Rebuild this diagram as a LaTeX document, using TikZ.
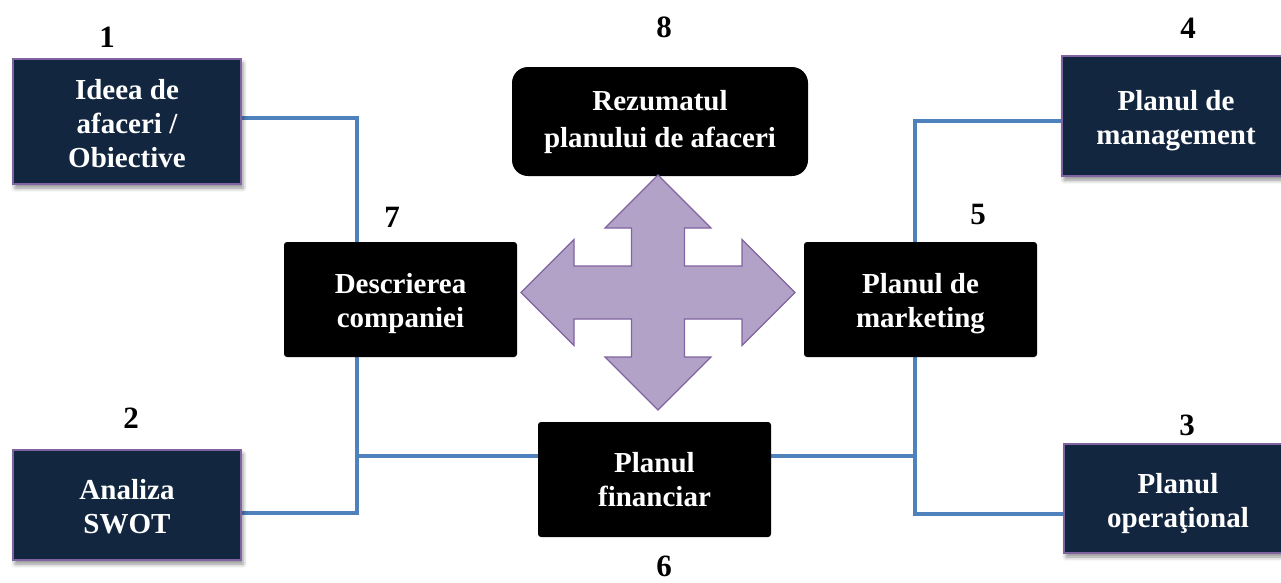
\documentclass[tikz,border=0pt]{standalone}
\usepackage{fontspec}
\setmainfont{Liberation Serif}
\usetikzlibrary{shadows.blur,backgrounds}
\definecolor{navy}{HTML}{12263F}
\definecolor{violetline}{HTML}{8064A2}
\definecolor{lilac}{HTML}{B3A2C7}
\definecolor{linkblue}{HTML}{4F81BD}
\tikzset{
  boxtext/.style={font=\bfseries\fontsize{29}{34}\selectfont, align=center, text=white, inner sep=0pt},
  navybox/.style={fill=navy, draw=violetline, line width=1.6pt, inner sep=0pt,
    blur shadow={shadow xshift=2pt, shadow yshift=-4pt, shadow blur radius=4pt, shadow opacity=45}},
  blackbox/.style={fill=black, rounded corners=3pt, inner sep=0pt},
  numlabel/.style={font=\bfseries\fontsize{31}{34}\selectfont, inner sep=0pt},
  link/.style={draw=linkblue, line width=4pt},
}
\begin{document}
\begin{tikzpicture}[x=1pt, y=-1pt]
\useasboundingbox (0,0) rectangle (1281,582);

% outer boxes
\node[navybox, minimum width=228pt, minimum height=125pt,
  label={[boxtext, yshift=-2pt]center:{Ideea de\\afaceri /\\Obiective}}] (idea) at (127,121.5) {};
\node[navybox, minimum width=228pt, minimum height=110pt,
  label={[boxtext, yshift=-2pt]center:{Analiza\\SWOT}}] (swot) at (127,505) {};
\node[navybox, minimum width=228pt, minimum height=120pt,
  label={[boxtext, yshift=-5pt]center:{Planul de\\management}}] (mgmt) at (1176,116) {};
\node[navybox, minimum width=228pt, minimum height=109pt,
  label={[boxtext, yshift=-5pt]center:{Planul\\operaţional}}] (oper) at (1178,498.5) {};

% inner boxes
\node[blackbox, minimum width=233pt, minimum height=115pt,
  label={[boxtext, yshift=-4pt]center:{Descrierea\\companiei}}] (desc) at (400.5,299.5) {};
\node[blackbox, minimum width=233pt, minimum height=115pt,
  label={[boxtext, yshift=-4pt]center:{Planul de\\marketing}}] (mkt) at (920.5,299.5) {};
\node[blackbox, minimum width=233pt, minimum height=115pt,
  label={[boxtext, yshift=0pt]center:{Planul\\financiar}}] (fin) at (654.5,479.5) {};
\node[blackbox, rounded corners=16pt, minimum width=296pt, minimum height=109pt,
  label={[boxtext, font=\bfseries\fontsize{29}{37}\selectfont, yshift=-1pt]center:{Rezumatul\\planului de afaceri}}] (rez) at (660,121.5) {};

% junctions of the link lines
\coordinate (jl) at (357,456);
\coordinate (jr) at (915,456);

% links, kept behind the boxes
\begin{pgfonlayer}{background}
  \draw[link] ([yshift=4pt]idea.east) -| (desc.north -| jl);
  \draw[link] ([yshift=-8pt]swot.east) -| (desc.south -| jl);
  \draw[link] (jl) -- (jl -| fin.west);
  \draw[link] (jr -| fin.east) -- (jr);
  \draw[link] ([yshift=-5pt]mgmt.west) -| ([yshift=-15pt]oper.west -| jr) -- ([yshift=-15pt]oper.west);
\end{pgfonlayer}

% step numbers
\node[numlabel] (n1) at (107,37) {1};
\node[numlabel] (n2) at (131,418) {2};
\node[numlabel] (n3) at (1187,425) {3};
\node[numlabel] (n4) at (1188,28) {4};
\node[numlabel] (n5) at (978,214) {5};
\node[numlabel] (n6) at (664,566) {6};
\node[numlabel] (n7) at (392,217) {7};
\node[numlabel] (n8) at (664,27) {8};

% four-way arrow
\begin{scope}[shift={(658,292.5)}]
\draw[fill=lilac, draw=violetline, line width=1.2pt, line join=miter]
  (0,-117.5) -- (53,-64.5) -- (26.5,-64.5) -- (26.5,-26.5) -- (84,-26.5) -- (84,-53)
  -- (137,0) -- (84,53) -- (84,26.5) -- (26.5,26.5) -- (26.5,64.5) -- (53,64.5)
  -- (0,117.5) -- (-53,64.5) -- (-26.5,64.5) -- (-26.5,26.5) -- (-84,26.5) -- (-84,53)
  -- (-137,0) -- (-84,-53) -- (-84,-26.5) -- (-26.5,-26.5) -- (-26.5,-64.5) -- (-53,-64.5)
  -- cycle;
\end{scope}
\end{tikzpicture}
\end{document}
